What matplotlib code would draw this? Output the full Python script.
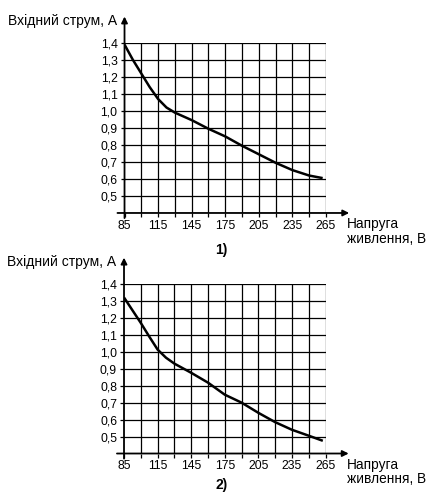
import numpy as np
import matplotlib
matplotlib.use('Agg')
import matplotlib.pyplot as plt
from matplotlib.ticker import FixedLocator, FuncFormatter

# Data
volts_1 = [85, 92.5, 100, 107.5, 115, 122.5, 130, 145, 160, 175, 190, 205, 220, 235, 250, 262]
amps_1 = [1.39, 1.30, 1.22, 1.14, 1.07, 1.02, 0.99, 0.946, 0.895, 0.85, 0.795, 0.745, 0.695, 0.652, 0.62, 0.605]

volts_2 = [85, 100, 107.5, 115, 122.5, 130, 145, 160, 175, 190, 205, 220, 235, 250, 262.6]
amps_2 = [1.32, 1.17, 1.09, 1.013, 0.965, 0.93, 0.876, 0.818, 0.747, 0.70, 0.64, 0.585, 0.54, 0.505, 0.475]

x_grid = np.arange(85, 266, 15)
x_labels = [85, 115, 145, 175, 205, 235, 265]
y_grid = np.round(np.arange(0.5, 1.41, 0.1), 1)

y_title = 'Вхідний струм, А'
x_title = 'Напруга\nживлення, В'
captions = ['1)', '2)']

plt.rcParams['font.family'] = ['Liberation Sans Narrow', 'Liberation Sans', 'DejaVu Sans']

fig = plt.figure(figsize=(4.26, 4.93), dpi=100)
boxes = [[0.2923, 0.568, 0.473, 0.345], [0.2911, 0.0801, 0.473, 0.344]]
series = [(volts_1, amps_1), (volts_2, amps_2)]

for i, (box, (vx, vy), cap) in enumerate(zip(boxes, series, captions)):
    ax = fig.add_axes(box)
    ax.set_xlim(85, 265)
    ax.set_ylim(0.4, 1.4)
    for g in x_grid[1:]:
        ax.axvline(g, color='black', lw=0.9, zorder=1)
    for g in y_grid:
        ax.axhline(g, color='black', lw=0.9, zorder=1)
    ax.plot(vx, vy, color='black', lw=1.8, zorder=3, solid_capstyle='butt')

    ax.xaxis.set_major_locator(FixedLocator(x_grid))
    ax.xaxis.set_major_formatter(FuncFormatter(
        lambda v, p: str(int(round(v))) if int(round(v)) in x_labels else ''))
    ax.yaxis.set_major_locator(FixedLocator(y_grid))
    ax.yaxis.set_major_formatter(FuncFormatter(lambda v, p: f'{v:.1f}'.replace('.', ',')))
    ax.tick_params(length=3, width=0.9, pad=2, labelsize=8.8, color='black')
    for s in ['top', 'right', 'left', 'bottom']:
        ax.spines[s].set_visible(False)

    # axis lines with arrows
    ax.annotate('', xy=(1.115, 0), xytext=(-0.035, 0), xycoords='axes fraction',
                arrowprops=dict(arrowstyle='-|>', color='black', lw=1.3,
                                mutation_scale=9, shrinkA=0, shrinkB=0))
    ax.annotate('', xy=(0, 1.155), xytext=(0, -0.03), xycoords='axes fraction',
                arrowprops=dict(arrowstyle='-|>', color='black', lw=1.3,
                                mutation_scale=9, shrinkA=0, shrinkB=0))

    ax.text(-0.58, 1.13, y_title, transform=ax.transAxes, fontsize=10,
            ha='left', va='center')
    ax.text(1.105, -0.025, x_title, transform=ax.transAxes, fontsize=9.8,
            ha='left', va='top', linespacing=1.05)
    if i == 0:
        ax.text(0.48, -0.175, cap, transform=ax.transAxes, fontsize=10,
                ha='center', va='top', fontweight='bold')
    else:
        fig.text(0.52, 0.003, cap, fontsize=10, ha='center', va='bottom',
                 fontweight='bold')

fig.savefig('out.png', dpi=100)
